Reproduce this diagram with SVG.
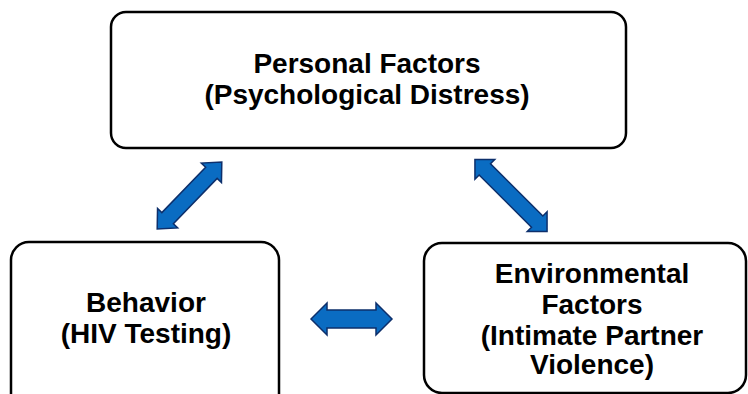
<svg xmlns="http://www.w3.org/2000/svg" width="748" height="394" viewBox="0 0 748 394">
<style>
.box{fill:#fff;stroke:#000;stroke-width:2.5}
.t{font-family:"Liberation Sans",Arial,sans-serif;font-weight:bold;font-size:28px;fill:#000;text-anchor:middle}
.arr{fill:#0A6CC2;stroke:#0D2F6B;stroke-width:1.5;stroke-linejoin:miter}
</style>
<rect width="748" height="394" fill="#fff"/>
<g id="personal">
<rect class="box" x="111" y="12" width="515" height="136" rx="15"/>
<text class="t" x="367" y="73">Personal Factors</text>
<text class="t" x="367" y="104">(Psychological Distress)</text>
</g>
<g id="behavior">
<rect class="box" x="11" y="242" width="268" height="170" rx="18"/>
<text class="t" x="146" y="312">Behavior</text>
<text class="t" x="146" y="343">(HIV Testing)</text>
</g>
<g id="environmental">
<rect class="box" x="424" y="243" width="322" height="150" rx="18"/>
<text class="t" x="592" y="283">Environmental</text>
<text class="t" x="592" y="314">Factors</text>
<text class="t" x="592" y="345">(Intimate Partner</text>
<text class="t" x="592" y="374">Violence)</text>
</g>
<g id="connectors">
<path class="arr" transform="translate(189.5,195.5) rotate(-46)" d="M-46.5 0L-31.5 -14L-31.5 -8L31.5 -8L31.5 -14L46.5 0L31.5 14L31.5 8L-31.5 8L-31.5 14Z"/>
<path class="arr" transform="translate(511,195.5) rotate(45)" d="M-51 0L-37 -14L-37 -8L37 -8L37 -14L51 0L37 14L37 8L-37 8L-37 14Z"/>
<path class="arr" transform="translate(351.5,319)" d="M-40.5 0L-24.5 -16L-24.5 -9L24.5 -9L24.5 -16L40.5 0L24.5 16L24.5 9L-24.5 9L-24.5 16Z"/>
</g>
</svg>
